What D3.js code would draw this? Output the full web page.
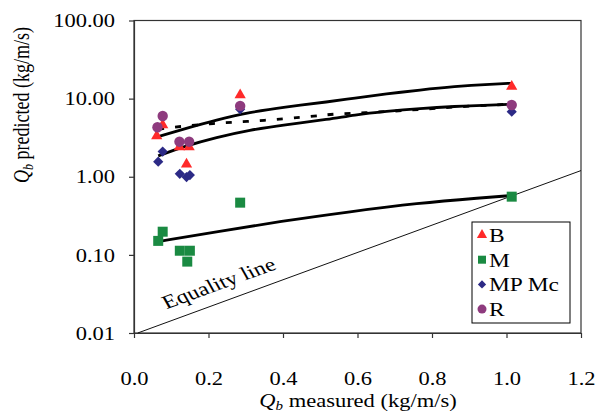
<!DOCTYPE html>
<html>
<head>
<meta charset="utf-8">
<script src="https://cdn.jsdelivr.net/npm/d3@7"></script>
<style>
  body { margin: 0; background: #fff; }
  text { font-family: "Liberation Serif", "Times New Roman", serif; fill: #000; }
</style>
</head>
<body>
<div id="chart"></div>
<script>
// measured vs predicted bed load
const bMeasured = [0.061, 0.077, 0.122, 0.148, 0.141, 0.285, 1.014];
const bPredicted = [3.33, 4.6, 2.4, 2.4, 1.45, 11.1, 14.3];

const mMeasured = [0.065, 0.077, 0.123, 0.150, 0.143, 0.285, 1.014];
const mPredicted = [0.151, 0.198, 0.113, 0.113, 0.082, 0.466, 0.556];

const mpMeasured = [0.065, 0.077, 0.123, 0.141, 0.150, 0.285, 1.014];
const mpPredicted = [1.56, 2.1, 1.09, 0.99, 1.05, 7.3, 6.8];

const rMeasured = [0.063, 0.077, 0.122, 0.148, 0.285, 1.014];
const rPredicted = [4.3, 6.0, 2.81, 2.81, 8.07, 8.3];

// fitted curves
const fitBx = [0.065, 0.132, 0.222, 0.311, 0.401, 0.526, 0.589, 0.678, 0.768, 0.857, 0.965, 1.012];
const fitBy = [3.26, 4.06, 5.34, 6.7, 7.76, 9.16, 10.1, 11.5, 12.9, 14.3, 15.4, 15.7];

const fitRx = [0.065, 0.119, 0.213, 0.303, 0.401, 0.49, 0.535, 0.629, 0.719, 0.813, 0.907, 1.009];
const fitRy = [4.06, 4.38, 4.84, 5.08, 5.5, 6.0, 6.37, 6.62, 7.02, 7.54, 8.07, 8.48];

const fitMPx = [0.065, 0.132, 0.222, 0.311, 0.401, 0.526, 0.589, 0.678, 0.768, 0.857, 0.965, 1.012];
const fitMPy = [1.85, 2.43, 3.2, 3.97, 4.6, 5.45, 6.18, 6.9, 7.5, 7.95, 8.3, 8.48];

const fitMx = [0.065, 0.222, 0.401, 0.58, 0.759, 0.938, 1.009];
const fitMy = [0.148, 0.198, 0.272, 0.357, 0.458, 0.54, 0.573];

// equality line drawn as a straight segment between its end points
const equalityX = [0.01, 1.2];
const equalityY = [0.01, 1.2];

const xTicks = [0, 0.2, 0.4, 0.6, 0.8, 1.0, 1.2];
const yTicks = [0.01, 0.1, 1, 10, 100];

const legendNames = ['B', 'M', 'MP Mc', 'R'];

// **********************
// GRAPH CODE
// **********************
const W = 595, H = 415;
const margin = { top: 20.5, right: 14, bottom: 82, left: 134 };
const width = W - margin.left - margin.right;
const height = H - margin.top - margin.bottom;
const SX = 1.25; // the source picture is stretched sideways

const svg = d3.select('#chart').append('svg')
  .attr('width', W).attr('height', H);

const g = svg.append('g')
  .attr('transform', `translate(${margin.left},${margin.top})`);

const x = d3.scaleLinear().domain([0, 1.2]).range([0, width]);
const y = d3.scaleLog().domain([0.01, 100]).range([height, 0]);

// frame
g.append('rect')
  .attr('width', width).attr('height', height)
  .attr('fill', 'none').attr('stroke', '#333').attr('stroke-width', 1.2);

// X axis
const xAxis = g.append('g')
  .attr('transform', `translate(0,${height})`)
  .call(d3.axisBottom(x).tickValues(xTicks).tickFormat(d3.format('.1f')).tickSizeInner(5).tickSizeOuter(0));
xAxis.select('.domain').attr('stroke', '#333').attr('stroke-width', 1.2);
xAxis.selectAll('line').attr('stroke', '#333').attr('stroke-width', 1.2);
xAxis.selectAll('text')
  .attr('y', 52).attr('dy', 0)
  .attr('transform', `scale(${SX},1)`)
  .style('font-size', '18px');

// Y axis
const yAxis = g.append('g')
  .call(d3.axisLeft(y).tickValues(yTicks).tickFormat(d3.format('.2f')).tickSizeInner(5).tickSizeOuter(0));
yAxis.select('.domain').attr('stroke', '#333').attr('stroke-width', 1.2);
yAxis.selectAll('line').attr('stroke', '#333').attr('stroke-width', 1.2);
yAxis.selectAll('text')
  .attr('x', -19 / SX).attr('dy', '0.34em')
  .attr('transform', `scale(${SX},1)`)
  .style('font-size', '18px');

// axis titles
const xTitle = svg.append('text')
  .attr('transform', `translate(358,407) scale(${SX},1)`)
  .attr('text-anchor', 'middle')
  .style('font-size', '18px');
xTitle.append('tspan').style('font-style', 'italic').text('Q');
xTitle.append('tspan').style('font-style', 'italic').style('font-size', '12px').attr('dy', 3).text('b');
xTitle.append('tspan').attr('dy', -3).text(' measured (kg/m/s)');

const yTitle = svg.append('text')
  .attr('transform', `translate(29,105) scale(${SX},1) rotate(-90)`)
  .attr('text-anchor', 'middle')
  .style('font-size', '18px');
yTitle.append('tspan').style('font-style', 'italic').text('Q');
yTitle.append('tspan').style('font-style', 'italic').style('font-size', '12px').attr('dy', 3).text('b');
yTitle.append('tspan').attr('dy', -3).text(' predicted (kg/m/s)');

// equality line
g.append('path')
  .datum(d3.zip(equalityX, equalityY))
  .attr('fill', 'none')
  .attr('stroke', '#111')
  .attr('stroke-width', 1)
  .attr('d', d3.line().x((d) => x(d[0])).y((d) => y(d[1])));

svg.append('text')
  .attr('transform', `translate(222,289) scale(${SX},1) rotate(-24.5)`)
  .attr('text-anchor', 'middle')
  .style('font-size', '19px')
  .text('Equality line');

// fitted curves
const fitLine = d3.line()
  .x((d) => x(d[0]))
  .y((d) => y(d[1]))
  .curve(d3.curveBasis);

const fits = [
  { xs: fitBx, ys: fitBy, dash: null },
  { xs: fitRx, ys: fitRy, dash: '6,11' },
  { xs: fitMPx, ys: fitMPy, dash: null },
  { xs: fitMx, ys: fitMy, dash: null },
];

fits.forEach((f) => {
  g.append('path')
    .datum(d3.zip(f.xs, f.ys))
    .attr('fill', 'none')
    .attr('stroke', '#000')
    .attr('stroke-width', 2.8)
    .attr('stroke-dasharray', f.dash)
    .attr('d', fitLine);
});

// markers
const series = [
  { xs: bMeasured, ys: bPredicted, sym: d3.symbolTriangle, size: 55, rot: 0, color: '#ff2a2a' },
  { xs: mMeasured, ys: mPredicted, sym: d3.symbolSquare, size: 100, rot: 0, color: '#1a8a42' },
  { xs: mpMeasured, ys: mpPredicted, sym: d3.symbolSquare, size: 52, rot: 45, color: '#2c2a86' },
  { xs: rMeasured, ys: rPredicted, sym: d3.symbolCircle, size: 85, rot: 0, color: '#8e3b7e' },
];

series.forEach((s) => {
  g.selectAll(null)
    .data(d3.zip(s.xs, s.ys))
    .enter()
    .append('path')
    .attr('d', d3.symbol().type(s.sym).size(s.size))
    .attr('transform', (d) => `translate(${x(d[0])},${y(d[1])}) rotate(${s.rot})`)
    .attr('fill', s.color);
});

// legend
const legend = svg.append('g').attr('transform', 'translate(472,222)');
legend.append('rect')
  .attr('width', 98).attr('height', 101)
  .attr('fill', '#fff').attr('stroke', '#000').attr('stroke-width', 1);

const legendSizes = [45, 64, 34, 64];
legendNames.forEach((name, i) => {
  const s = series[i];
  const cy = 13 + i * 24.7;
  legend.append('path')
    .attr('d', d3.symbol().type(s.sym).size(legendSizes[i]))
    .attr('transform', `translate(10,${cy}) rotate(${s.rot})`)
    .attr('fill', s.color);
  legend.append('text')
    .attr('transform', `translate(17,${cy + 7}) scale(1.2,1)`)
    .style('font-size', '19.5px')
    .text(name);
});
</script>
</body>
</html>
